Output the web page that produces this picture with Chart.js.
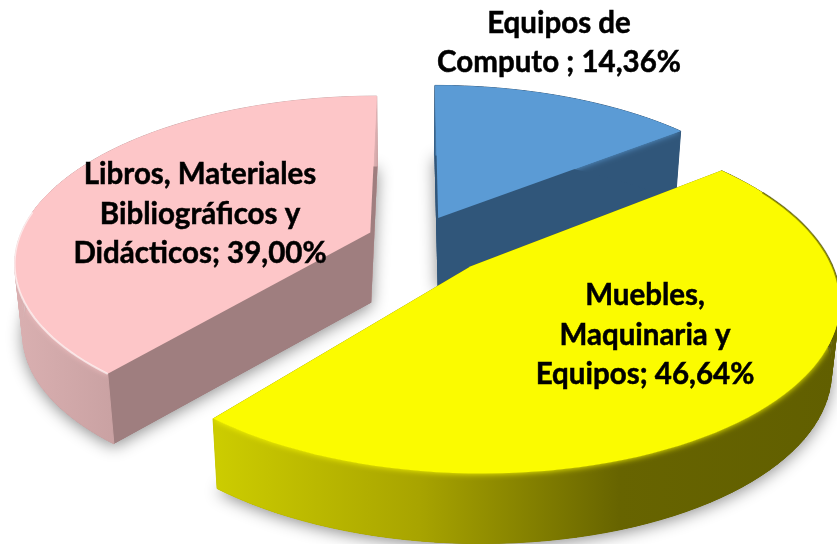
<!DOCTYPE html>
<html>
<head>
<meta charset="utf-8">
<script src="https://cdn.jsdelivr.net/npm/chart.js@4"></script>
<style>
  html, body { margin: 0; padding: 0; background: #fff; }
  canvas { display: block; }
</style>
</head>
<body>
<canvas id="pie3d" width="837" height="544"></canvas>
<script>
// data
const categories = ['Equipos de Computo', 'Muebles, Maquinaria y Equipos', 'Libros, Materiales Bibliográficos y Didácticos'];
const values = [14.36, 46.64, 39.00];
const labelLines = [
  ['Equipos de', 'Computo ; 14,36%'],
  ['Muebles,', 'Maquinaria y', 'Equipos; 46,64%'],
  ['Libros, Materiales', 'Bibliográficos y', 'Didácticos; 39,00%']
];

// colours
const faceColors = ['#5b9bd5', '#fbfb00', '#fdc6c8'];
const startWallColors = ['#30567a', '#6b6900', '#9f7e7f'];
const endWallColors = ['#30567a', '#6b6900', '#c9a1a2'];
const rimStops = [
  [[0, '#30567a'], [1, '#30567a']],
  [[0.26, '#cccc00'], [0.5, '#a8a400'], [0.74, '#676400'], [1, '#615f00']],
  [[0, '#dcb2b3'], [0.14, '#c9a1a2'], [1, '#c9a1a2']]
];
// thin line along part of the outer edge: colour, from, to (share of the arc)
const edgeLines = [
  null,
  ['rgba(70,70,0,0.55)', 0.06, 0.3],
  ['rgba(255,255,255,0.6)', 0.0, 0.42]
];

// fake 3D view: where the flat pie lands on the page
const view = { cx: 415, cy: 240, rx: 352, ky: 162, persp: 0.17, depth: 70, shrink: 0.02 };
const labelPos = [[559, 43], [645, 335], [200, 214]];
const lineGap = 39.5;

function project(wx, wy, drop) {
  const s = 1 / (1 + view.persp * wy);
  const f = drop ? 1 - view.shrink : 1;
  return [view.cx + wx * view.rx * s * f, view.cy - wy * view.ky * s + (drop ? view.depth : 0)];
}

// outline of one slice in page pixels, taken from the Chart.js arc element
function slicePoints(chart, arc, drop) {
  const half = chart.chartArea.height / 2;
  const off = arc.options.offset / half;
  const mid = (arc.startAngle + arc.endAngle) / 2;
  const ox = off * Math.cos(mid);
  const oy = -off * Math.sin(mid);
  const pts = [];
  const steps = 80;
  for (let i = 0; i <= steps; i++) {
    const a = arc.startAngle + (arc.endAngle - arc.startAngle) * i / steps;
    pts.push(project(ox + Math.cos(a), oy - Math.sin(a), drop));
  }
  return { apex: project(ox, oy, drop), arc: pts };
}

function tracePoly(ctx, pts) {
  ctx.beginPath();
  pts.forEach((p, i) => i ? ctx.lineTo(p[0], p[1]) : ctx.moveTo(p[0], p[1]));
  ctx.closePath();
}

// the rim as a row of small quads, so it keeps its outline where the arcs cross
function traceRim(ctx, top, base) {
  ctx.beginPath();
  for (let i = 0; i < top.arc.length - 1; i++) {
    ctx.moveTo(top.arc[i][0], top.arc[i][1]);
    ctx.lineTo(top.arc[i + 1][0], top.arc[i + 1][1]);
    ctx.lineTo(base.arc[i + 1][0], base.arc[i + 1][1]);
    ctx.lineTo(base.arc[i][0], base.arc[i][1]);
    ctx.closePath();
  }
}

const pie3d = {
  id: 'pie3d',
  beforeDatasetsDraw(chart) {
    const ctx = chart.ctx;
    const arcs = chart.getDatasetMeta(0).data;
    const order = [0, 2, 1];

    // soft shadow under every slice
    order.forEach(i => {
      const base = slicePoints(chart, arcs[i], true);
      ctx.save();
      ctx.shadowColor = 'rgba(0,0,0,0.45)';
      ctx.shadowBlur = 16;
      ctx.shadowOffsetY = 3;
      ctx.fillStyle = startWallColors[i];
      tracePoly(ctx, [base.apex, ...base.arc]);
      ctx.fill();
      ctx.restore();
    });

    order.forEach(i => {
      const top = slicePoints(chart, arcs[i], false);
      const base = slicePoints(chart, arcs[i], true);
      const last = top.arc.length - 1;

      // the two cut walls
      ctx.fillStyle = startWallColors[i];
      tracePoly(ctx, [top.apex, top.arc[0], base.arc[0], base.apex]);
      ctx.fill();
      ctx.fillStyle = endWallColors[i];
      tracePoly(ctx, [top.apex, top.arc[last], base.arc[last], base.apex]);
      ctx.fill();

      // the base again, it covers the wall seams
      ctx.fillStyle = startWallColors[i];
      tracePoly(ctx, [base.apex, ...base.arc]);
      ctx.fill();

      // outer rim
      const grad = ctx.createLinearGradient(0, 0, 837, 0);
      rimStops[i].forEach(s => grad.addColorStop(s[0], s[1]));
      ctx.fillStyle = grad;
      ctx.strokeStyle = grad;
      ctx.lineWidth = 1;
      traceRim(ctx, top, base);
      ctx.fill();
      ctx.stroke();

      // top face, bleeding softly onto the rim only
      ctx.save();
      traceRim(ctx, top, base);
      ctx.clip();
      ctx.shadowColor = faceColors[i];
      ctx.shadowBlur = 6;
      ctx.fillStyle = faceColors[i];
      tracePoly(ctx, [top.apex, ...top.arc]);
      ctx.fill();
      ctx.restore();

      ctx.fillStyle = faceColors[i];
      tracePoly(ctx, [top.apex, ...top.arc]);
      ctx.fill();

      if (edgeLines[i]) {
        const [color, from, to] = edgeLines[i];
        ctx.strokeStyle = color;
        ctx.lineWidth = 2;
        ctx.beginPath();
        top.arc.slice(Math.round(from * last), Math.round(to * last)).forEach((p, n) => n ? ctx.lineTo(p[0], p[1]) : ctx.moveTo(p[0], p[1]));
        ctx.stroke();
      }
    });

    // text labels
    ctx.fillStyle = '#000';
    ctx.strokeStyle = '#000';
    ctx.lineWidth = 0.5;
    ctx.font = 'bold 29.5px Lato';
    ctx.textAlign = 'center';
    ctx.textBaseline = 'middle';
    labelLines.forEach((lines, i) => {
      lines.forEach((line, n) => {
        const y = labelPos[i][1] + (n - (lines.length - 1) / 2) * lineGap;
        ctx.fillText(line, labelPos[i][0], y);
        ctx.strokeText(line, labelPos[i][0], y);
      });
    });
    return false;
  }
};

new Chart(document.getElementById('pie3d').getContext('2d'), {
  type: 'pie',
  data: {
    labels: categories,
    datasets: [{
      data: values,
      backgroundColor: faceColors,
      borderWidth: 0,
      offset: [42, 60, 37]
    }]
  },
  options: {
    responsive: false,
    animation: false,
    layout: { padding: 0 },
    plugins: { legend: { display: false }, tooltip: { enabled: false } }
  },
  plugins: [pie3d]
});
</script>
</body>
</html>
